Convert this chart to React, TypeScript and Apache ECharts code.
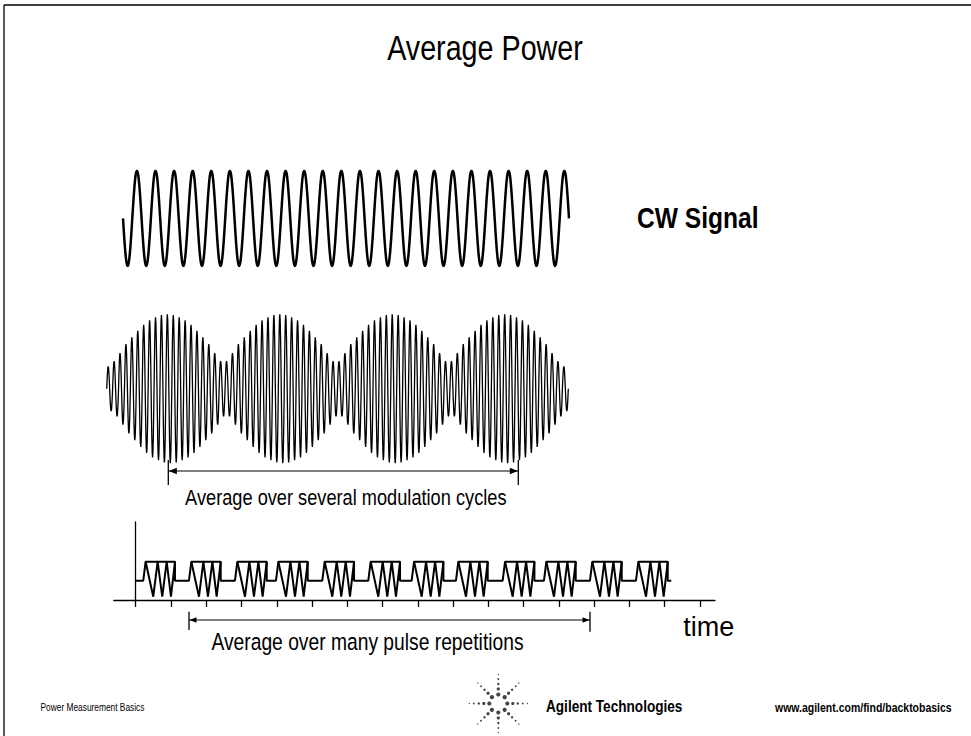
import React, { useEffect, useRef } from "react";
import * as echarts from "echarts";

// ---- data ----
// one carrier cycle, 16 samples (unit sinusoid)
const carrierCycle = [0, 0.383, 0.707, 0.924, 1, 0.924, 0.707, 0.383, 0, -0.383, -0.707, -0.924, -1, -0.924, -0.707, -0.383];
const cwCycles = 24;
// peak amplitude of each carrier cycle across one modulation lobe (19 cycles)
const amLobe = [0.37, 0.48, 0.6, 0.69, 0.78, 0.86, 0.92, 0.96, 0.99, 1.0, 0.99, 0.96, 0.92, 0.86, 0.78, 0.69, 0.6, 0.48, 0.37];
const amLobeCount = 4;
const amEdgeStart = [0.3];
const amEdgeEnd = [0.3];
// pulse train (time axis in tick units)
const timeTicks = [0, 1, 2, 3, 4, 5, 6, 7, 8, 9, 10, 11, 12, 13, 14, 15, 16];
const pulseStarts = [0.215, 1.511, 2.815, 3.978, 5.291, 6.595, 7.825, 9.081, 10.405, 11.576, 12.88, 14.185];
const pulseWidth = 0.9;
const pulseRise = 0.068;
const zigzagX = [0.068, 0.284, 0.408, 0.539, 0.664, 0.785, 0.9];
const zigzagLevel = ["top", "trough", "top", "trough", "top", "trough", "top"];
const levelBase = 19.3;
const levelTop = 38.3;
const levelTrough = 3.3;
// Agilent spark logo
const logoArmRadii = [9, 14.5, 19.5, 24.5, 29];
const logoDotSizes = [2.1, 1.6, 1.2, 0.9, 0.65];

const SANS = '"Liberation Sans", Arial, Helvetica, sans-serif';
const NARROW_SCALE = 0.82;

function buildCW() {
  const d: any[] = [];
  for (let c = 0; c < cwCycles; c++) {
    carrierCycle.forEach((v, k) => d.push([c + k / carrierCycle.length, -v]));
  }
  d.push([cwCycles, 0]);
  return d;
}

function buildAM() {
  let env: number[] = [...amEdgeStart];
  for (let i = 0; i < amLobeCount; i++) env = env.concat(amLobe);
  env = env.concat(amEdgeEnd);
  const d: any[] = [];
  env.forEach((a, c) => {
    carrierCycle.forEach((v, k) => d.push([c + k / carrierCycle.length, a * v]));
  });
  d.push([env.length, 0]);
  return { data: d, n: env.length };
}

function buildPulseOutline() {
  const d: any[] = [[0, levelBase]];
  pulseStarts.forEach((s) => {
    d.push([s, levelBase]);
    d.push([s + pulseRise, levelTop]);
    d.push([s + pulseWidth, levelTop]);
    d.push([s + pulseWidth, levelBase]);
  });
  const last = pulseStarts[pulseStarts.length - 1] + pulseWidth;
  d.push([last + 0.1, levelBase]);
  return d;
}

function buildPulseZigzag() {
  const lv: Record<string, number> = { top: levelTop, trough: levelTrough };
  const d: any[] = [];
  pulseStarts.forEach((s) => {
    zigzagX.forEach((x, i) => d.push([s + x, lv[zigzagLevel[i]]]));
    d.push([s + pulseWidth, "-"]);
  });
  return d;
}

function txt(text: string, x: number, y: number, size: number, opts: any = {}) {
  return {
    type: "text",
    silent: true,
    x,
    y,
    scaleX: opts.scaleX == null ? NARROW_SCALE : opts.scaleX,
    style: {
      text,
      x: 0,
      y: 0,
      fontSize: size,
      fontFamily: SANS,
      fontWeight: opts.weight || "normal",
      fill: opts.fill || "#000",
      textAlign: opts.align || "center",
      textVerticalAlign: "middle",
    },
  };
}

function arrow(x1: number, x2: number, y: number, tickTop: number, tickBot1: number, tickBot2: number, headLen: number, headHalf: number) {
  const st = { stroke: "#000", lineWidth: 1.2 };
  return [
    { type: "line", silent: true, shape: { x1, y1: y, x2, y2: y }, style: st },
    { type: "line", silent: true, shape: { x1, y1: tickTop, x2: x1, y2: tickBot1 }, style: { stroke: "#000", lineWidth: 1.3 } },
    { type: "line", silent: true, shape: { x1: x2, y1: tickTop, x2: x2, y2: tickBot2 }, style: { stroke: "#000", lineWidth: 1.3 } },
    { type: "polygon", silent: true, shape: { points: [[x1 + 0.5, y], [x1 + 0.5 + headLen, y - headHalf], [x1 + 0.5 + headLen, y + headHalf]] }, style: { fill: "#000" } },
    { type: "polygon", silent: true, shape: { points: [[x2 - 0.5, y], [x2 - 0.5 - headLen, y - headHalf], [x2 - 0.5 - headLen, y + headHalf]] }, style: { fill: "#000" } },
  ];
}

function logo(cx: number, cy: number) {
  const els: any[] = [];
  for (let a = 0; a < 8; a++) {
    const ang = (a * Math.PI) / 4;
    logoArmRadii.forEach((r, i) => {
      els.push({
        type: "circle",
        silent: true,
        shape: { cx: cx + r * Math.cos(ang), cy: cy + r * Math.sin(ang), r: logoDotSizes[i] },
        style: { fill: "#444" },
      });
    });
  }
  return els;
}

export default function App() {
  const ref = useRef<HTMLDivElement>(null);
  useEffect(() => {
    if (!ref.current) return;
    document.body.style.margin = "0";
    const chart = echarts.init(ref.current, undefined, { renderer: "svg" });
    const am = buildAM();
    const hiddenAxis = { show: false };
    const option: any = {
      animation: false,
      backgroundColor: "#fff",
      grid: [
        { left: 123, top: 170.7, width: 446, height: 95.3, outerBoundsMode: "none" },
        { left: 106.7, top: 314.3, width: 461.6, height: 149, outerBoundsMode: "none" },
        { left: 113.8, top: 522, width: 601.2, height: 78, outerBoundsMode: "none" },
      ],
      xAxis: [
        { type: "value", gridIndex: 0, min: 0, max: cwCycles, ...hiddenAxis },
        { type: "value", gridIndex: 1, min: 0, max: am.n, ...hiddenAxis },
        {
          type: "value",
          gridIndex: 2,
          min: -0.62,
          max: 16.425,
          axisLine: { show: true, onZero: false, lineStyle: { color: "#000", width: 1.3 } },
          axisTick: { show: true, customValues: timeTicks, length: 7, inside: false, lineStyle: { color: "#000", width: 1.3 } },
          axisLabel: { show: false },
          splitLine: { show: false },
        },
      ],
      yAxis: [
        { type: "value", gridIndex: 0, min: -1, max: 1, ...hiddenAxis },
        { type: "value", gridIndex: 1, min: -1, max: 1, ...hiddenAxis },
        {
          type: "value",
          gridIndex: 2,
          min: 0,
          max: 78,
          axisLine: { show: true, onZero: true, lineStyle: { color: "#000", width: 1.3 } },
          axisTick: { show: false },
          axisLabel: { show: false },
          splitLine: { show: false },
        },
      ],
      series: [
        {
          type: "line",
          xAxisIndex: 0,
          yAxisIndex: 0,
          data: buildCW(),
          showSymbol: false,
          smooth: 0.2,
          silent: true,
          lineStyle: { color: "#000", width: 2.5 },
        },
        {
          type: "line",
          xAxisIndex: 1,
          yAxisIndex: 1,
          data: am.data,
          showSymbol: false,
          silent: true,
          lineStyle: { color: "#000", width: 1.3 },
        },
        {
          type: "line",
          xAxisIndex: 2,
          yAxisIndex: 2,
          data: buildPulseOutline(),
          showSymbol: false,
          silent: true,
          lineStyle: { color: "#000", width: 2 },
        },
        {
          type: "line",
          xAxisIndex: 2,
          yAxisIndex: 2,
          data: buildPulseZigzag(),
          showSymbol: false,
          connectNulls: false,
          silent: true,
          lineStyle: { color: "#000", width: 2 },
        },
      ],
      graphic: [
        { type: "line", silent: true, shape: { x1: 4, y1: 5, x2: 971, y2: 5 }, style: { stroke: "#000", lineWidth: 1.3 } },
        { type: "line", silent: true, shape: { x1: 4, y1: 5, x2: 4, y2: 736 }, style: { stroke: "#000", lineWidth: 1.3 } },
        txt("Average Power", 485, 48, 35),
        txt("CW Signal", 637, 218, 30, { weight: "bold", align: "left" }),
        ...arrow(168.3, 518.3, 471, 460, 485, 485, 8, 3.3),
        txt("Average over several modulation cycles", 345.8, 497.5, 22.2),
        ...arrow(189, 590, 620, 611.7, 630, 631.7, 7, 2.7),
        txt("Average over many pulse repetitions", 367.5, 642.5, 23.5),
        txt("time", 683.3, 627, 27, { align: "left", scaleX: 1 }),
        txt("Power Measurement Basics", 40.5, 707.7, 10.2, { align: "left" }),
        ...logo(498.3, 703.5),
        txt("Agilent Technologies", 546, 705.5, 16.6, { weight: "bold", align: "left" }),
        txt("www.agilent.com/find/backtobasics", 775, 707, 12.8, { weight: "bold", align: "left" }),
      ],
    };
    chart.setOption(option);
    return () => chart.dispose();
  }, []);
  return <div ref={ref} style={{ position: "absolute", left: 0, top: 0, width: 971, height: 736, background: "#fff" }} />;
}
